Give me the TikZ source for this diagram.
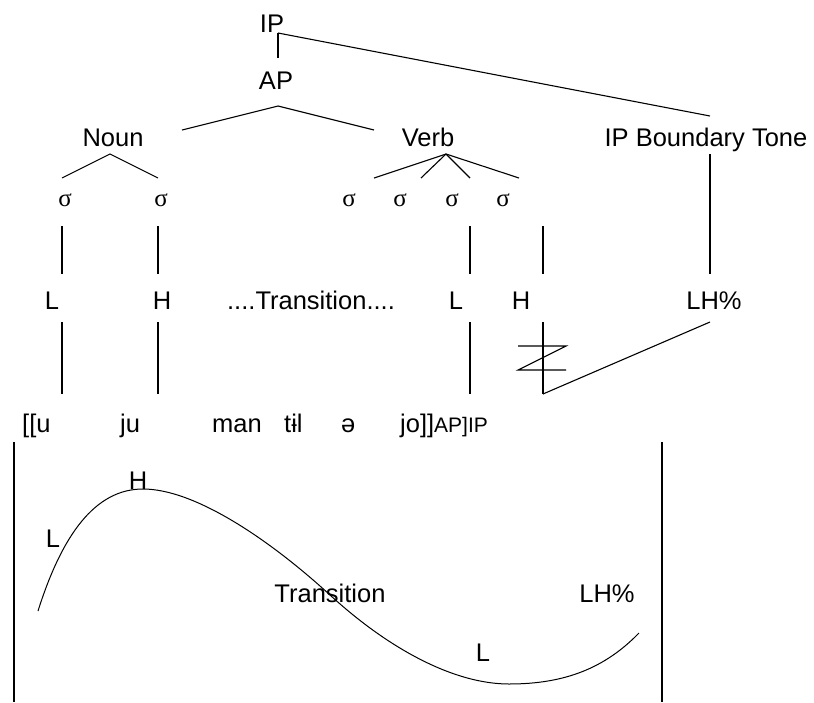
\documentclass[tikz,border=0pt]{standalone}
\usepackage{fontspec}
\setmainfont{Liberation Sans}
\newfontfamily\sigmafont{Liberation Serif}
\usepackage{tikz}
\usetikzlibrary{calc,positioning}

\begin{document}
\begin{tikzpicture}
    [   x = 1pt
    ,   y = -1pt
    ,   lbl/.style=
        {   inner sep = 0pt
        ,   anchor = base
        ,   node font = \fontsize{25.5}{30}\selectfont
        }
    ,   seg/.style=
        {   lbl
        ,   anchor = base west
        }
    ,   syl/.style=
        {   lbl
        ,   node font = \fontsize{25}{30}\sigmafont
        }
    ,   link/.style = {line width = 1.1pt}
    ]
    \useasboundingbox (0,0) rectangle (814,702);
    % prosodic tree
    \node[lbl] (IP)   at (272, 32)  {IP};
    \node[lbl] (AP)   at (276, 89)  {AP};
    \node[lbl] (Noun) at (113, 146) {Noun};
    \node[lbl] (Verb) at (428, 146) {Verb};
    \node[lbl] (BT)   at (706, 146) {IP Boundary Tone};
    \coordinate (ipfoot) at (278, 33);
    \coordinate (aptop)  at (278, 58);
    \coordinate (bttop)  at (710, 116);
    \draw[link] (ipfoot) -- (aptop);
    \draw[link] (ipfoot) -- (bttop);
    \coordinate (apfoot) at (278, 106);
    \draw[link] (182,130) coordinate (nountop) -- (apfoot) -- (374,130) coordinate (verbtop);
    \coordinate (nounfoot) at (110, 154);
    \coordinate (verbfoot) at (446, 154);
    \draw[link] (62,178) -- (nounfoot) -- (158,178);
    \foreach \x in {374,421,470,519}
        \draw[link] (verbfoot) -- (\x,178);
    % syllables
    \foreach \x/\n in {65/s1,161/s2,349/s3,400/s4,452/s5,503/s6}
        \node[syl] (\n) at (\x, 206) {σ};
    % tones
    \node[lbl] (t1) at (52, 309)  {L};
    \node[lbl] (t2) at (162, 309) {H};
    \node[lbl] (tr) at (311, 309) {....Transition....};
    \node[lbl] (t3) at (456, 309) {L};
    \node[lbl] (t4) at (521, 309) {H};
    \node[lbl] (t5) at (714, 309) {LH\%};
    \foreach \x in {62,158,470,543}
    {
        \draw[link] (\x,226) -- (\x,274);
        \draw[link] (\x,322) -- (\x,394);
    }
    \draw[link] (710,154) -- (710,274);
    \coordinate (lhfoot) at (710, 322);
    \coordinate (hfoot)  at (543, 394);
    \draw[link] (lhfoot) -- (hfoot);
    % delinking mark
    \draw[link] (518,346) -- (566,346) -- (518,370) -- (566,370);
    % segments
    \node[seg] (w1) at (22, 432)  {[[u};
    \node[seg] (w2) at (120, 432) {ju};
    \node[seg] (w3) at (212, 432) {man};
    \node[seg] (w4) at (284, 432) {tɨl};
    \node[seg] (w5) at (341, 432) {ə};
    \node[seg] (w6) at (400, 432) {jo]]{\fontsize{21}{24}\selectfont AP]IP}};
    % pitch track
    \draw[link] (14,442) -- (14,702);
    \draw[link] (662,442) -- (662,702);
    \draw[line width=1pt] (38,611)
        .. controls (62,535) and (95,489) .. (143,489)
        .. controls (195,489) and (270,540) .. (330,595)
        .. controls (390,650) and (455,684) .. (509,684)
        .. controls (565,684) and (605,668) .. (639,633);
    \node[lbl] (pH)  at (138, 489) {H};
    \node[lbl] (pL)  at (53, 547)  {L};
    \node[lbl] (pTr) at (330, 602) {Transition};
    \node[lbl] (pLH) at (607, 602) {LH\%};
    \node[lbl] (pL2) at (483, 661) {L};
\end{tikzpicture}
\end{document}
